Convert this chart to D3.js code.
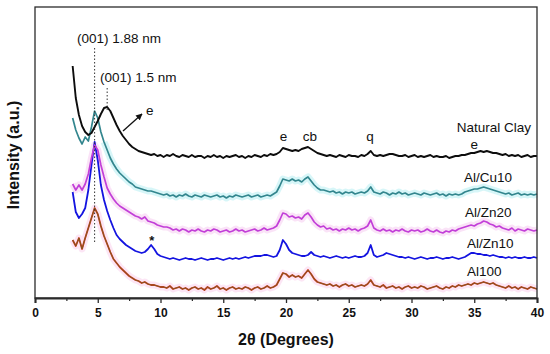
<!DOCTYPE html>
<html>
<head>
<meta charset="utf-8">
<script src="https://cdn.jsdelivr.net/npm/d3@7"></script>
<style>
  body { margin: 0; background: #fff; }
  svg { display: block; font-family: "Liberation Sans", Arial, sans-serif; }
</style>
</head>
<body>
<svg width="550" height="354"></svg>
<script>
// 2-theta sampling grid (degrees)
const theta = [3,3.25,3.5,3.75,4,4.25,4.5,4.75,5,5.25,5.5,5.75,6,6.25,6.5,6.75,7,7.25,7.5,7.75,
  8,8.25,8.5,8.75,9,9.25,9.5,9.75,10,10.25,10.5,10.75,11,11.25,11.5,11.75,12,12.25,12.5,12.75,
  13,13.25,13.5,13.75,14,14.25,14.5,14.75,15,15.25,15.5,15.75,16,16.25,16.5,16.75,17,17.25,17.5,17.75,
  18,18.25,18.5,18.75,19,19.25,19.5,19.75,20,20.25,20.5,20.75,21,21.25,21.5,21.75,22,22.25,22.5,22.75,
  23,23.25,23.5,23.75,24,24.25,24.5,24.75,25,25.25,25.5,25.75,26,26.25,26.5,26.75,27,27.25,27.5,27.75,
  28,28.25,28.5,28.75,29,29.25,29.5,29.75,30,30.25,30.5,30.75,31,31.25,31.5,31.75,32,32.25,32.5,32.75,
  33,33.25,33.5,33.75,34,34.25,34.5,34.75,35,35.25,35.5,35.75,36,36.25,36.5,36.75,37,37.25,37.5,37.75,
  38,38.25,38.5,38.75,39,39.25,39.5,39.75,40];

// stacked intensities (a.u.)
const naturalClay = [232,200,183,172,166,163,165,171,177,184,190,191,187,180,173,167,162,158,154,151,149,147,146,145,144,
  143,144,142,143,141,143,142,144,142,141,143,142,141,143,141,142,142,140,142,141,143,141,142,140,142,141,142,143,141,142,140,142,141,143,142,141,143,142,144,143,
  144,146,150,149,148,147,148,147,149,150,151,149,147,145,144,143,142,143,142,141,143,142,141,143,142,142,141,143,142,144,147,143,142,143,142,143,144,144,143,142,
  142,143,141,142,143,141,142,141,142,143,141,142,141,141,142,140,141,142,142,143,
  143,144,145,145,146,147,146,147,146,145,145,144,143,144,142,143,
  142,143,141,142,143,141,142,142];

const alCu10 = [180,168,160,154,161,157,171,187,180,166,156,148,140,134,129,125,122,119,116,114,111,110,109,108,107,107,106,105,104,
  103,104,102,103,101,103,102,104,102,101,103,102,101,103,102,101,102,103,101,102,100,102,101,103,102,101,102,103,101,102,103,101,102,103,102,104,
  106,112,119,118,117,119,117,118,116,119,121,117,113,110,108,108,107,
  106,107,105,106,104,106,105,106,104,105,106,105,
  107,111,106,
  105,104,106,105,103,105,104,106,104,105,103,104,105,104,103,105,104,103,104,105,103,104,102,104,103,104,103,104,
  106,107,108,109,109,110,111,110,109,108,107,106,
  105,104,105,103,104,105,103,104,103,104,103,104];

const alZn20 = [114,108,113,108,114,124,140,153,148,133,121,110,104,99,95,92,90,88,86,84,82,81,79,81,77,76,75,73,72,71,71,
  70,68,69,67,69,68,66,68,67,69,67,66,68,67,69,68,66,67,68,66,67,69,67,68,66,67,68,69,67,68,70,68,69,70,
  72,78,85,84,81,82,80,81,79,83,85,81,76,73,71,72,69,
  70,68,69,67,69,68,70,68,69,67,69,70,
  72,78,70,
  68,67,69,67,68,66,68,67,69,67,66,68,67,68,66,67,69,67,66,68,66,65,67,66,68,67,69,70,
  71,72,73,72,74,75,77,76,74,73,71,72,
  70,69,68,70,67,69,68,67,69,68,67,68];

const alZn10 = [106,86,80,84,90,108,133,156,138,113,98,87,78,70,63,59,56,53,51,49,47,46,45,46,49,53,49,44,42,41,40,
  39,40,39,38,39,40,39,39,38,39,40,39,38,39,39,40,39,38,39,40,39,40,39,40,41,40,41,42,
  42,42,43,43,42,41,42,
  48,58,54,48,45,44,43,42,42,43,46,43,42,41,42,
  41,40,41,42,41,40,41,40,41,42,41,41,42,
  45,53,43,41,42,43,45,44,43,42,41,
  41,40,41,40,39,40,41,40,39,40,40,41,40,39,40,40,41,40,39,40,
  41,43,45,45,44,44,43,43,42,43,42,41,
  41,40,41,40,41,40,40,41,40,40,41,40];

const al100 = [58,52,60,49,60,70,80,90,84,72,62,54,46,39,35,31,28,25,22,20,18,17,15,16,14,13,13,12,11,
  11,10,12,9,10,11,9,10,8,10,11,9,10,8,11,9,10,12,9,10,8,10,11,9,10,9,11,10,8,10,11,9,10,12,10,11,
  13,19,25,24,21,23,21,22,20,24,28,24,19,16,15,14,
  13,14,12,13,11,13,14,12,13,11,12,13,12,
  14,18,13,
  12,11,13,10,11,12,10,11,9,11,12,10,11,10,12,11,9,10,11,12,10,9,11,10,12,11,13,12,
  13,14,13,15,14,15,16,15,14,15,13,12,
  11,10,12,10,11,9,11,10,9,11,10,9];

const seriesNames = ["Natural Clay", "Al/Cu10", "Al/Zn20", "Al/Zn10", "Al100"];
const majorTicks = [0, 5, 10, 15, 20, 25, 30, 35, 40];
const minorTicks = [2.5, 7.5, 12.5, 17.5, 22.5, 27.5, 32.5, 37.5];

const svg = d3.select("svg");

const x = d3.scaleLinear().domain([0, 40]).range([35, 537]);
const y = d3.scaleLinear().domain([0, 291]).range([298, 7]);

const line = d3.line()
  .x((d, i) => x(theta[i]))
  .y(d => y(d));

// soft coloured halos seen behind some traces
const halos = [
  {data: alCu10, color: "#c2f1f4", from: 10},
  {data: alZn20, color: "#f8d4f3", from: 0},
  {data: al100, color: "#fbd8ef", from: 0}
];
halos.forEach(h => {
  svg.append("path")
    .attr("d", d3.line()
      .defined((d, i) => i >= h.from)
      .x((d, i) => x(theta[i]))
      .y(d => y(d))(h.data))
    .attr("fill", "none")
    .attr("stroke", h.color)
    .attr("stroke-width", 7)
    .attr("stroke-linejoin", "round")
    .attr("opacity", 0.65);
});

const traces = [
  {data: al100, color: "#cc3a22", w: 1.8},
  {data: al100, color: "#7d5a1e", w: 0.9},
  {data: alZn10, color: "#1414e0", w: 1.8},
  {data: alZn20, color: "#c23fd8", w: 1.7},
  {data: alCu10, color: "#33868e", w: 1.7},
  {data: naturalClay, color: "#0d0d0d", w: 1.9}
];
traces.forEach(t => {
  svg.append("path")
    .attr("d", line(t.data))
    .attr("fill", "none")
    .attr("stroke", t.color)
    .attr("stroke-width", t.w)
    .attr("stroke-linejoin", "round");
});

// frame
svg.append("rect")
  .attr("x", x(0)).attr("y", y(291))
  .attr("width", x(40) - x(0)).attr("height", y(0) - y(291))
  .attr("fill", "none").attr("stroke", "#2b2b2b").attr("stroke-width", 1.3);

// x axis
const gx = svg.append("g").attr("transform", `translate(0,${y(0)})`)
  .call(d3.axisBottom(x).tickValues(majorTicks).tickSize(5).tickPadding(5).tickFormat(d3.format("d")));
gx.select(".domain").attr("stroke", "#2b2b2b").attr("stroke-width", 2);
gx.selectAll(".tick line").attr("stroke", "#2b2b2b").attr("stroke-width", 1.3);
gx.selectAll(".tick text")
  .attr("fill", "#111").style("font-size", "12px").style("font-weight", "bold")
  .style("font-family", "\"Liberation Sans\", Arial, sans-serif");

const gm = svg.append("g").attr("transform", `translate(0,${y(0)})`)
  .call(d3.axisBottom(x).tickValues(minorTicks).tickSize(3).tickFormat(""));
gm.select(".domain").remove();
gm.selectAll(".tick line").attr("stroke", "#2b2b2b").attr("stroke-width", 1.2);

// axis titles
svg.append("text")
  .attr("x", 286).attr("y", 345)
  .attr("text-anchor", "middle")
  .style("font-size", "16px").style("font-weight", "bold").attr("fill", "#111")
  .text("2θ (Degrees)");

svg.append("text")
  .attr("transform", "translate(19,155) rotate(-90)")
  .attr("text-anchor", "middle")
  .style("font-size", "16px").style("font-weight", "bold").attr("fill", "#111")
  .text("Intensity (a.u.)");

// dotted guide lines for the (001) reflections
svg.append("line")
  .attr("x1", x(4.75)).attr("x2", x(4.75)).attr("y1", 48).attr("y2", 242)
  .attr("stroke", "#333").attr("stroke-width", 1).attr("stroke-dasharray", "1.5,2");
svg.append("line")
  .attr("x1", x(5.75)).attr("x2", x(5.75)).attr("y1", 88).attr("y2", 110)
  .attr("stroke", "#333").attr("stroke-width", 1).attr("stroke-dasharray", "1.5,2");

const label = (tx, ty, s, anchor) => svg.append("text")
  .attr("x", tx).attr("y", ty)
  .attr("text-anchor", anchor || "start")
  .style("font-size", "13.5px").attr("fill", "#111")
  .text(s);

label(77, 43, "(001) 1.88 nm");
label(100, 82, "(001) 1.5 nm");

// arrow to the shoulder
svg.append("defs").append("marker")
  .attr("id", "ah").attr("viewBox", "0 0 10 10")
  .attr("refX", 9).attr("refY", 5)
  .attr("markerWidth", 5).attr("markerHeight", 5)
  .attr("orient", "auto")
  .append("path").attr("d", "M0,0L10,5L0,10z").attr("fill", "#111");
svg.append("line")
  .attr("x1", 123).attr("y1", 131).attr("x2", 142).attr("y2", 114)
  .attr("stroke", "#111").attr("stroke-width", 1.3)
  .attr("marker-end", "url(#ah)");
label(146, 115, "e");

// peak labels
label(x(19.8), 141, "e", "middle");
label(x(21.9), 141, "cb", "middle");
label(x(26.7), 141, "q", "middle");
label(x(35.0), 149, "e", "middle");

svg.append("text")
  .attr("x", x(9.3)).attr("y", 245)
  .attr("text-anchor", "middle")
  .style("font-size", "13px").style("font-weight", "bold").attr("fill", "#111")
  .text("*");

// sample names
label(531, 132, seriesNames[0], "end");
label(464, 182, seriesNames[1]);
label(465, 217, seriesNames[2]);
label(467, 248, seriesNames[3]);
label(467, 276, seriesNames[4]);
</script>
</body>
</html>
